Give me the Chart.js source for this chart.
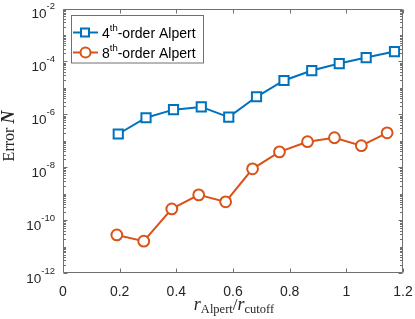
<!DOCTYPE html>
<html>
<head>
<meta charset="utf-8">
<script src="https://cdn.jsdelivr.net/npm/chart.js@4"></script>
<style>
html,body{margin:0;padding:0;background:#fff;}
canvas{display:block;}
</style>
</head>
<body>
<canvas id="c" width="415" height="319"></canvas>
<script>
// ---- data ----
const ratio4 = [0.195, 0.293, 0.390, 0.488, 0.585, 0.683, 0.780, 0.878, 0.975, 1.070, 1.170];
const error4 = [1.8e-7, 7.4e-7, 1.5e-6, 1.9e-6, 7.8e-7, 4.6e-6, 1.9e-5, 4.5e-5, 8.3e-5, 1.4e-4, 2.35e-4];
const ratio8 = [0.190, 0.285, 0.384, 0.479, 0.574, 0.669, 0.764, 0.863, 0.958, 1.053, 1.144];
const error8 = [2.75e-11, 1.6e-11, 2.65e-10, 9.0e-10, 4.9e-10, 8.7e-9, 3.8e-8, 9.2e-8, 1.3e-7, 6.5e-8, 2.0e-7];
const xTicks = [0, 0.2, 0.4, 0.6, 0.8, 1, 1.2];
const xTickLabels = ["0", "0.2", "0.4", "0.6", "0.8", "1", "1.2"];
const yTickExps = [-2, -4, -6, -8, -10, -12];
const legendNums = ["4", "8"];
const legendSup = "th";
const legendRest = "-order Alpert";

const BLUE = "#0072BD", ORANGE = "#D95319";
const SANS = '"Liberation Sans", Arial, sans-serif';
const SERIF = '"Liberation Serif", "DejaVu Serif", serif';
const AXIS = "#707070";

function pts(xs, ys){ return xs.map((x,i)=>({x:x, y:ys[i]})); }

const axesPlugin = {
  id: 'matlabAxes',
  beforeDatasetsDraw(chart){
    const ctx = chart.ctx, a = chart.chartArea;
    const xs = chart.scales.x, ys = chart.scales.y;
    ctx.save();
    ctx.strokeStyle = AXIS; ctx.lineWidth = 1;
    const L = Math.round(a.left)+0.5, R = Math.round(a.right)-0.5, T = Math.round(a.top)+0.5, B = Math.round(a.bottom)-0.5;
    ctx.beginPath();
    xTicks.forEach(v=>{
      const px = Math.round(xs.getPixelForValue(v))+0.5;
      ctx.moveTo(px, B); ctx.lineTo(px, B-4);
      ctx.moveTo(px, T); ctx.lineTo(px, T+4);
    });
    for(let e=-12; e<-2; e++){
      for(let m=1; m<=9; m++){
        const v = m*Math.pow(10,e);
        const py = Math.round(ys.getPixelForValue(v))+0.5;
        const major = (m===1 && yTickExps.includes(e));
        const len = major ? 4 : 2.5;
        ctx.moveTo(L, py); ctx.lineTo(L+len, py);
        ctx.moveTo(R, py); ctx.lineTo(R-len, py);
      }
    }
    ctx.stroke();
    ctx.beginPath();
    ctx.rect(L, T, R-L, B-T);
    ctx.stroke();

    ctx.fillStyle = "#262626";
    ctx.font = "14px " + SANS;
    ctx.textAlign = "center"; ctx.textBaseline = "alphabetic";
    xTicks.forEach((v,i)=>{
      ctx.fillText(xTickLabels[i], xs.getPixelForValue(v), a.bottom + 23);
    });
    yTickExps.forEach(e=>{
      const py = ys.getPixelForValue(Math.pow(10,e));
      const sup = "-" + Math.abs(e);
      ctx.font = "9.5px " + SANS;
      const ws = ctx.measureText(sup).width;
      ctx.font = "13.5px " + SANS;
      const wb = ctx.measureText("10").width;
      const right = a.left - 8;
      ctx.textAlign = "left";
      ctx.fillText("10", right - ws - wb, py + 9.5);
      ctx.font = "9.5px " + SANS;
      ctx.fillText(sup, right - ws, py + 0.5);
    });

    // x axis label: r_Alpert / r_cutoff
    const parts = [
      {t:"r", f:"italic 18px " + SERIF, dy:0},
      {t:"Alpert", f:"12.5px " + SERIF, dy:3},
      {t:"/", f:"17px " + SERIF, dy:0},
      {t:"r", f:"italic 18px " + SERIF, dy:0},
      {t:"cutoff", f:"12.5px " + SERIF, dy:3}
    ];
    let tw = 0;
    parts.forEach(p=>{ ctx.font = p.f; p.w = ctx.measureText(p.t).width; tw += p.w; });
    let x0 = 234 - tw/2;
    ctx.textAlign = "left";
    parts.forEach(p=>{ ctx.font = p.f; ctx.fillText(p.t, x0, 310 + p.dy); x0 += p.w; });

    // y axis label: Error N
    ctx.save();
    ctx.translate(14, 136);
    ctx.rotate(-Math.PI/2);
    ctx.font = "16px " + SERIF;
    const w1 = ctx.measureText("Error ").width;
    ctx.font = "bold italic 18px " + SERIF;
    const w2 = ctx.measureText("N").width;
    let sx = -(w1+w2)/2;
    ctx.font = "16px " + SERIF;
    ctx.fillText("Error ", sx, 0);
    ctx.font = "bold italic 18px " + SERIF;
    ctx.fillText("N", sx + w1, 0);
    ctx.restore();
    ctx.restore();
  },
  afterDraw(chart){
    const ctx = chart.ctx;
    ctx.save();
    ctx.fillStyle = "#fff";
    ctx.fillRect(71, 15, 132, 48);
    ctx.strokeStyle = AXIS; ctx.lineWidth = 1;
    ctx.strokeRect(71.5, 15.5, 132, 47.5);
    const rows = [32.5, 52.5];
    chart.data.datasets.forEach((ds, i)=>{
      const y = rows[i];
      ctx.strokeStyle = ds.borderColor; ctx.lineWidth = 2;
      ctx.beginPath(); ctx.moveTo(73, y); ctx.lineTo(98, y); ctx.stroke();
      ctx.fillStyle = "#fff";
      ctx.beginPath();
      if (ds.pointStyle === 'rect') { ctx.rect(81, y-4, 8, 8); }
      else { ctx.arc(85.5, y, 5, 0, Math.PI*2); }
      ctx.fill(); ctx.stroke();
      ctx.fillStyle = "#000";
      ctx.textAlign = "left"; ctx.textBaseline = "alphabetic";
      ctx.font = "14px " + SANS;
      let tx = 102;
      ctx.fillText(legendNums[i], tx, y + 5);
      tx += ctx.measureText(legendNums[i]).width;
      ctx.font = "9.5px " + SANS;
      ctx.fillText(legendSup, tx, y - 2);
      tx += ctx.measureText(legendSup).width;
      ctx.font = "14px " + SANS;
      ctx.fillText(legendRest, tx, y + 5);
    });
    ctx.restore();
  }
};

new Chart(document.getElementById('c'), {
  type: 'line',
  data: {
    datasets: [
      { label: '4th-order Alpert', data: pts(ratio4, error4), borderColor: BLUE, backgroundColor: '#fff',
        borderWidth: 2, pointStyle: 'rect', pointRadius: 6.5, pointBorderWidth: 2, pointBackgroundColor: '#fff',
        pointBorderColor: BLUE, tension: 0, clip: false },
      { label: '8th-order Alpert', data: pts(ratio8, error8), borderColor: ORANGE, backgroundColor: '#fff',
        borderWidth: 2, pointStyle: 'circle', pointRadius: 5.4, pointBorderWidth: 2, pointBackgroundColor: '#fff',
        pointBorderColor: ORANGE, tension: 0, clip: false }
    ]
  },
  options: {
    responsive: false, animation: false, devicePixelRatio: 1,
    layout: { padding: { left: 63, right: 12, top: 8, bottom: 46 } },
    plugins: { legend: { display: false }, tooltip: { enabled: false } },
    scales: {
      x: { type: 'linear', min: 0, max: 1.2, display: false },
      y: { type: 'logarithmic', min: 1e-12, max: 1e-2, display: false }
    }
  },
  plugins: [axesPlugin]
});
</script>
</body>
</html>
